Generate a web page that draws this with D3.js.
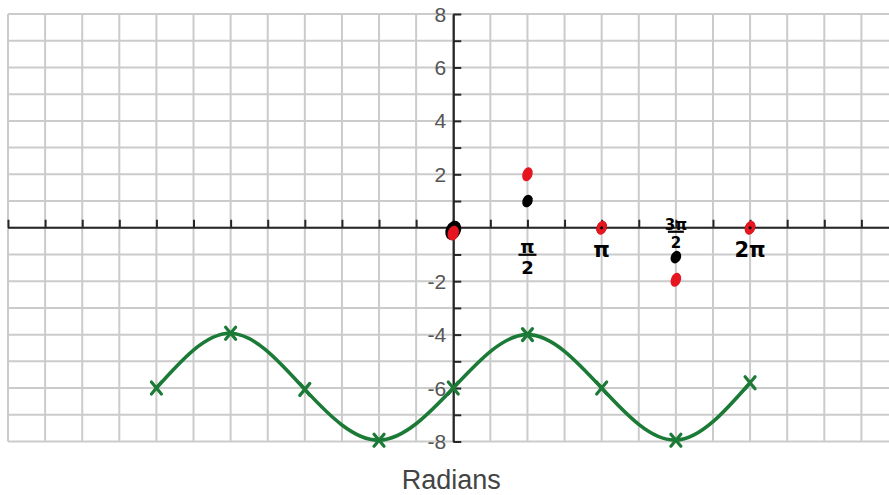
<!DOCTYPE html>
<html>
<head>
<meta charset="utf-8">
<script src="https://cdn.jsdelivr.net/npm/d3@7"></script>
<style>
  html, body { margin: 0; padding: 0; background: #fff; }
  svg { display: block; }
</style>
</head>
<body>
<svg id="chart" width="889" height="495"></svg>
<script>
const PI = Math.PI;

// Y axis tick labels (0 is left unlabeled)
const yTickValues = [8, 6, 4, 2, -2, -4, -6, -8];

// Green curve, marked with crosses
const greenX = [-2 * PI, -1.5 * PI, -PI, -0.5 * PI, 0, 0.5 * PI, PI, 1.5 * PI, 2 * PI];
const greenY = [-6, -3.95, -6.05, -7.95, -6, -4, -6, -7.95, -5.8];

// Red plotted points
const redX = [0, 0.5 * PI, PI, 1.5 * PI, 2 * PI];
const redY = [-0.2, 2, 0, -1.95, 0];

// Black plotted points
const blackX = [0, 0.5 * PI, PI, 1.5 * PI, 2 * PI];
const blackY = [-0.1, 1, 0, -1.1, 0];

// Hand-written angle labels under the x axis
const angleX = [0.5 * PI, PI, 1.5 * PI, 2 * PI];
const angleNum = ["π", "π", "3π", "2π"];
const angleDen = ["2", "", "2", ""];

const svg = d3.select("#chart");
const W = 889, H = 495;

const x = d3.scaleLinear().domain([-3 * PI, 3 * PI]).range([8, 898.5]);
const y = d3.scaleLinear().domain([-8, 8]).range([441.5, 14]);

const xGrid = d3.range(-12, 13).map(k => k * PI / 4);
const yGrid = d3.range(-8, 9);

// grid
const grid = svg.append("g").attr("stroke", "#cbcbcb").attr("stroke-width", 2);
grid.selectAll("line.v").data(xGrid).join("line")
  .attr("x1", d => x(d)).attr("x2", d => x(d))
  .attr("y1", y(8)).attr("y2", y(-8));
grid.selectAll("line.h").data(yGrid).join("line")
  .attr("x1", x(-3 * PI)).attr("x2", W)
  .attr("y1", d => y(d)).attr("y2", d => y(d));

// x axis (ticks pointing up)
const xAxis = d3.axisTop(x).tickValues(xGrid).tickSize(8).tickFormat("").tickSizeOuter(0);
const gx = svg.append("g").attr("transform", `translate(0,${y(0)})`).call(xAxis);
gx.select(".domain").attr("stroke", "#262626").attr("stroke-width", 2.2)
  .attr("d", `M${x(-3 * PI)},0H${W}`);
gx.selectAll(".tick line").attr("stroke", "#262626").attr("stroke-width", 2);

// y axis (ticks to the right, labels to the left)
const yAxis = d3.axisRight(y).tickValues(yGrid).tickSize(8).tickFormat("").tickSizeOuter(0);
const gy = svg.append("g").attr("transform", `translate(${x(0)},0)`).call(yAxis);
gy.select(".domain").attr("stroke", "#262626").attr("stroke-width", 2.2);
gy.selectAll(".tick line").attr("stroke", "#262626").attr("stroke-width", 2);

svg.append("g").selectAll("text").data(yTickValues).join("text")
  .attr("x", x(0) - 7)
  .attr("y", d => y(d))
  .attr("dy", "0.36em")
  .attr("text-anchor", "end")
  .attr("font-family", "Liberation Sans, Arial, sans-serif")
  .attr("font-size", 21)
  .attr("fill", "#555")
  .text(d => d);

// axis title
svg.append("text")
  .attr("x", x(0) - 2).attr("y", 489)
  .attr("text-anchor", "middle")
  .attr("font-family", "Liberation Sans, Arial, sans-serif")
  .attr("font-size", 27)
  .attr("fill", "#444")
  .text("Radians");

// green curve
const greenData = greenX.map((d, i) => ({ x: d, y: greenY[i] }));
const line = d3.line().x(d => x(d.x)).y(d => y(d.y)).curve(d3.curveNatural);
svg.append("path").datum(greenData)
  .attr("d", line)
  .attr("fill", "none")
  .attr("stroke", "#1b7a36")
  .attr("stroke-width", 3.6)
  .attr("stroke-linecap", "round");

svg.append("g").selectAll("path").data(greenData).join("path")
  .attr("transform", d => `translate(${x(d.x)},${y(d.y)})`)
  .attr("d", "M-5,-6L5,6M-5,6L5,-6")
  .attr("stroke", "#1b7a36")
  .attr("stroke-width", 3.2)
  .attr("stroke-linecap", "round")
  .attr("fill", "none");

// angle labels: numerator, fraction bar, denominator
const lbl = svg.append("g")
  .attr("font-family", "DejaVu Sans, sans-serif")
  .attr("font-weight", "bold")
  .attr("fill", "#000")
  .attr("text-anchor", "middle");
angleX.forEach((a, i) => {
  const frac = angleDen[i] !== "";
  const tall = angleNum[i] === "3π";
  const fs = frac ? (tall ? 15 : 18) : 21;
  const base = frac ? (tall ? y(0) + 2 : y(0) + 25) : y(0) + 29;
  const gap = tall ? 18 : 21;
  lbl.append("text")
    .attr("x", x(a)).attr("y", base)
    .attr("font-size", fs)
    .text(angleNum[i]);
  if (frac) {
    lbl.append("line")
      .attr("x1", x(a) - (tall ? 8 : 9)).attr("x2", x(a) + (tall ? 8 : 9))
      .attr("y1", base + 2).attr("y2", base + 2)
      .attr("stroke", "#000").attr("stroke-width", 2.2);
    lbl.append("text")
      .attr("x", x(a)).attr("y", base + gap)
      .attr("font-size", fs)
      .text(angleDen[i]);
  }
});

// black points
const blackData = blackX.map((d, i) => ({ x: d, y: blackY[i] }));
svg.append("g").selectAll("ellipse").data(blackData).join("ellipse")
  .attr("transform", d => `translate(${x(d.x)},${y(d.y)}) rotate(25)`)
  .attr("rx", (d, i) => i === 0 ? 7.5 : 5)
  .attr("ry", (d, i) => i === 0 ? 10 : 6.5)
  .attr("fill", "#000");

// red points
const redData = redX.map((d, i) => ({ x: d, y: redY[i] }));
svg.append("g").selectAll("ellipse").data(redData).join("ellipse")
  .attr("transform", d => `translate(${x(d.x)},${y(d.y)}) rotate(20)`)
  .attr("rx", (d, i) => i === 0 ? 5.5 : 5)
  .attr("ry", (d, i) => i === 0 ? 7.5 : 7.2)
  .attr("fill", "#e5161f");

// small dark centres on the red points that sit on the axis
svg.append("g").selectAll("circle").data(redData.filter(d => d.y === 0)).join("circle")
  .attr("cx", d => x(d.x)).attr("cy", d => y(d.y))
  .attr("r", 1.5).attr("fill", "#000");
</script>
</body>
</html>
